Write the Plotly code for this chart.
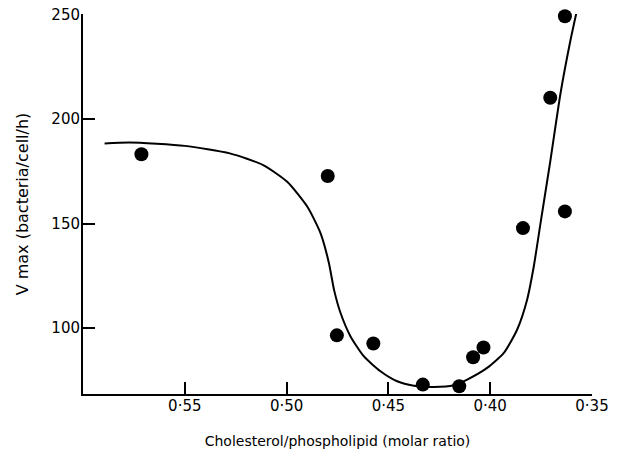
import plotly.graph_objects as go

# Measured points
ratio = [0.5713, 0.4798, 0.4753, 0.4574, 0.4331, 0.4152, 0.4084, 0.4033, 0.3839, 0.3705, 0.3633, 0.3633]
vmax = [183.2, 172.8, 96.4, 92.5, 72.8, 72.0, 85.9, 90.6, 147.8, 210.3, 249.3, 155.8]

# Hand-drawn fitted curve (traced)
curve_x = [0.5894, 0.5771, 0.5500, 0.5279, 0.5115, 0.4997, 0.4898, 0.4833, 0.4792, 0.4767,
           0.4735, 0.4686, 0.4620, 0.4539, 0.4457, 0.4375, 0.4277, 0.4179, 0.4113, 0.4015,
           0.3933, 0.3868, 0.3819, 0.3786, 0.3753, 0.3704, 0.3655, 0.3606, 0.3577]
curve_y = [188.3, 188.8, 187.2, 183.6, 178.0, 170.0, 158.0, 145.3, 131.0, 118.2,
           107.1, 95.9, 86.3, 79.2, 74.4, 72.3, 71.7, 72.5, 75.2, 80.8,
           88.0, 99.1, 113.4, 129.4, 150.1, 180.4, 212.2, 237.7, 250.8]

x_tickvals = [0.55, 0.50, 0.45, 0.40, 0.35]
x_ticktext = ["0·55", "0·50", "0·45", "0·40", "0·35"]
y_tickvals = [100, 150, 200, 250]

FONT = "DejaVu Sans"

fig = go.Figure()
fig.add_trace(go.Scatter(x=curve_x, y=curve_y, mode="lines",
                         line=dict(color="black", width=2, shape="spline", smoothing=0.6),
                         hoverinfo="skip", showlegend=False))
fig.add_trace(go.Scatter(x=ratio, y=vmax, mode="markers",
                         marker=dict(color="black", size=14),
                         showlegend=False, cliponaxis=False))

fig.update_layout(
    width=625, height=457,
    margin=dict(l=83, r=33, t=14, b=63),
    plot_bgcolor="white", paper_bgcolor="white",
    font=dict(family=FONT, size=14, color="black"),
    xaxis=dict(range=[0.60, 0.35], tickvals=x_tickvals, ticktext=x_ticktext,
               showline=True, linecolor="black", linewidth=2,
               ticks="inside", ticklen=12, tickwidth=1.5, tickcolor="black",
               tickfont=dict(size=15), ticklabelstandoff=-3,
               showgrid=False, zeroline=False, automargin=False,
               title=dict(text="Cholesterol/phospholipid (molar ratio)", standoff=22,
                          font=dict(size=14))),
    yaxis=dict(range=[68.3, 250.4], tickvals=y_tickvals,
               showline=True, linecolor="black", linewidth=2,
               ticks="inside", ticklen=12, tickwidth=1.5, tickcolor="black",
               tickfont=dict(size=15), ticklabelstandoff=-2,
               showgrid=False, zeroline=False, automargin=False,
               title=dict(text="V max (bacteria/cell/h)", standoff=19,
                          font=dict(size=16))),
)

# remove the default 8px page margin so the figure sits at the window origin
fig.write_html("out.html", config={"displayModeBar": False},
               post_script="document.body.style.margin='0';")
